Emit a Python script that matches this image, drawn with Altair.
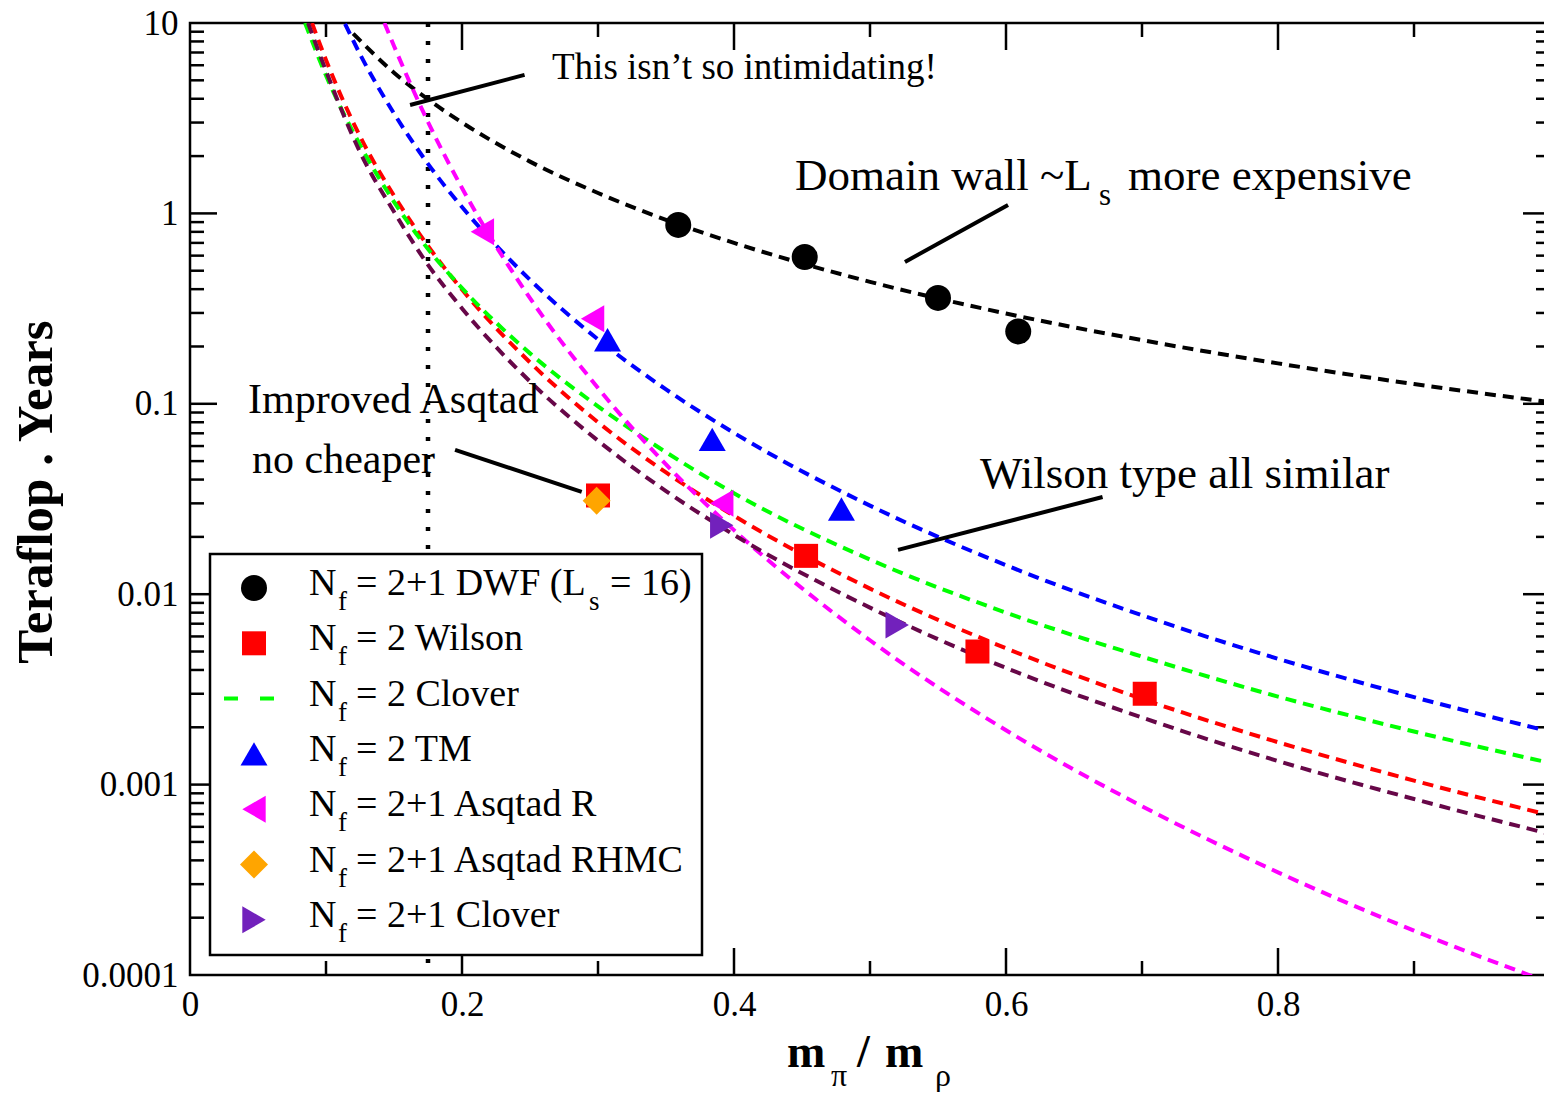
import altair as alt
import pandas as pd

# ---------------- data ----------------
# cost curves (x = m_pi/m_rho, y = Teraflop.Years)
dwf_x = [0.12, 0.15, 0.175, 0.2, 0.25, 0.3, 0.35, 0.4, 0.5, 0.6, 0.7, 0.8, 0.9, 1.0]
dwf_y = [8.8, 5.48, 3.97, 3.0, 1.87, 1.28, 0.925, 0.70, 0.437, 0.298, 0.216, 0.163, 0.127, 0.102]

wil_x = [0.0897, 0.1, 0.125, 0.15, 0.175, 0.2, 0.25, 0.3, 0.35, 0.4, 0.5, 0.6, 0.7, 0.8, 0.9, 1.0]
wil_y = [10, 6.4, 2.54, 1.24, 0.674, 0.398, 0.165, 0.080, 0.0436, 0.0258, 0.0107, 0.0052, 0.00282, 0.00167, 0.00105, 0.00069]

clo_x = [0.0846, 0.1, 0.125, 0.15, 0.175, 0.2, 0.25, 0.3, 0.35, 0.4, 0.5, 0.6, 0.7, 0.8, 0.9, 1.0]
clo_y = [10, 5.3, 2.29, 1.15, 0.65, 0.405, 0.184, 0.097, 0.0557, 0.0339, 0.0152, 0.0080, 0.0047, 0.0029, 0.0019, 0.0013]

tm_x = [0.114, 0.125, 0.15, 0.175, 0.2, 0.25, 0.3, 0.35, 0.4, 0.5, 0.6, 0.7, 0.8, 0.9, 1.0]
tm_y = [9.9, 6.86, 3.35, 1.82, 1.08, 0.448, 0.218, 0.119, 0.0703, 0.0292, 0.0142, 0.00775, 0.00458, 0.00288, 0.0019]

asq_x = [0.143, 0.15, 0.175, 0.2, 0.25, 0.3, 0.35, 0.4, 0.5, 0.6, 0.7, 0.8, 0.9, 1.0]
asq_y = [10, 7.58, 3.02, 1.36, 0.359, 0.121, 0.048, 0.0217, 0.00573, 0.00193, 0.00077, 0.000346, 0.000171, 0.000091]

clo3_x = [0.0868, 0.1, 0.125, 0.15, 0.175, 0.2, 0.25, 0.3, 0.35, 0.4, 0.5, 0.6, 0.7, 0.8, 0.9, 1.0]
clo3_y = [10, 5.6, 2.1, 1.02, 0.537, 0.317, 0.131, 0.064, 0.0348, 0.0205, 0.0085, 0.0041, 0.00225, 0.00133, 0.00084, 0.00055]

# measured points
dwf_mx = [0.359, 0.452, 0.55, 0.609]
dwf_my = [0.87, 0.59, 0.36, 0.24]
wil_mx = [0.3, 0.453, 0.579, 0.702]
wil_my = [0.033, 0.0159, 0.005, 0.003]
tm_mx = [0.307, 0.384, 0.479]
tm_my = [0.217, 0.065, 0.028]
asq_mx = [0.215, 0.296, 0.391]
asq_my = [0.8, 0.28, 0.030]
rhmc_mx = [0.299]
rhmc_my = [0.031]
clo3_mx = [0.391, 0.52]
clo3_my = [0.023, 0.0069]

# physical point marker (vertical dotted line)
phys_x = [0.175]

# annotation pointer lines (data coordinates)
ptr_x = [0.246, 0.6015, 0.671, 0.1949]
ptr_y = [5.34, 1.108, 0.0324, 0.0573]
ptr_x2 = [0.1618, 0.5257, 0.5206, 0.288]
ptr_y2 = [3.71, 0.556, 0.0171, 0.0345]

# axis ticks
x_tick_labels = [0, 0.2, 0.4, 0.6, 0.8, 1.0]
y_tick_labels = [0.0001, 0.001, 0.01, 0.1, 1, 10]
x_major = [0.2, 0.4, 0.6, 0.8]
x_minor = [0.1, 0.3, 0.5, 0.7, 0.9]
y_major = [0.001, 0.01, 0.1, 1]
y_minor = [k * 10.0 ** e for e in range(-4, 1) for k in range(2, 10)]

legend_keys = ["dwf", "wil", "clo", "tm", "asq", "rhmc", "clo3"]
legend_text = ["= 2+1 DWF (L", "= 2 Wilson", "= 2 Clover", "= 2 TM",
               "= 2+1 Asqtad R", "= 2+1 Asqtad RHMC", "= 2+1 Clover"]

# ---------------- styles ----------------
FONT = "Liberation Serif"
W, H = 1360, 952
STYLE = {
    "dwf": dict(color="#000000", shape="circle", size=676),
    "wil": dict(color="#ff0000", shape="square", size=576),
    "clo": dict(color="#00ff00"),
    "tm": dict(color="#0000ff", shape="triangle-up", size=729),
    "asq": dict(color="#ff00ff", shape="triangle-left", size=729),
    "rhmc": dict(color="#ffa500", shape="diamond", size=784),
    "clo3": dict(color="#7221bc", shape="triangle-right", size=729),
}
LINE_COLOR = {"dwf": "#000000", "wil": "#ff0000", "clo": "#00ff00",
              "tm": "#0000ff", "asq": "#ff00ff", "clo3": "#670748"}

xscale = alt.Scale(domain=[0, 1], nice=False, zero=False)
yscale = alt.Scale(type="log", domain=[1e-4, 10], nice=False)
xaxis = alt.Axis(values=x_tick_labels, format="~g", title=None, grid=False,
                 ticks=False, domain=False, labelFont=FONT, labelFontSize=35,
                 labelColor="black", labelPadding=12, labelFlush=False,
                 labelOverlap=False)
yaxis = alt.Axis(values=y_tick_labels, format="~g", title=None, grid=False,
                 ticks=False, domain=False, labelFont=FONT, labelFontSize=35,
                 labelColor="black", labelPadding=12, labelOverlap=False)

X = lambda f: alt.X(f, type="quantitative", scale=xscale, axis=xaxis)
Y = lambda f: alt.Y(f, type="quantitative", scale=yscale, axis=yaxis)
ONE = pd.DataFrame({"k": [0]})

layers = []

# ---- tick marks (inward, all four sides) ----
def xt(vals, L):
    d = pd.DataFrame({"v": vals})
    b = alt.Chart(d).mark_rule(color="black", strokeWidth=2.5)
    return [b.encode(x=X("v"), y=alt.value(H), y2=alt.value(H - L)),
            b.encode(x=X("v"), y=alt.value(0), y2=alt.value(L))]

def yt(vals, L):
    d = pd.DataFrame({"v": vals})
    b = alt.Chart(d).mark_rule(color="black", strokeWidth=2.5)
    return [b.encode(y=Y("v"), x=alt.value(0), x2=alt.value(L)),
            b.encode(y=Y("v"), x=alt.value(W), x2=alt.value(W - L))]

layers += xt(x_major, 27) + xt(x_minor, 14) + yt(y_major, 27) + yt(y_minor, 14)

# ---- dotted vertical line ----
layers.append(alt.Chart(pd.DataFrame({"v": phys_x})).mark_rule(
    color="black", strokeWidth=4.5, strokeDash=[4, 14]).encode(x=X("v")))

# ---- curves ----
curves = [("dwf", dwf_x, dwf_y), ("wil", wil_x, wil_y), ("clo", clo_x, clo_y),
          ("tm", tm_x, tm_y), ("asq", asq_x, asq_y), ("clo3", clo3_x, clo3_y)]
for key, xs, ys in curves:
    d = pd.DataFrame({"x": xs, "y": ys})
    layers.append(alt.Chart(d).mark_line(
        color=LINE_COLOR[key], strokeDash=[11, 7], strokeWidth=4,
        clip=True, interpolate="monotone").encode(x=X("x"), y=Y("y")))

# ---- markers ----
pts = [("dwf", dwf_mx, dwf_my), ("wil", wil_mx, wil_my), ("tm", tm_mx, tm_my),
       ("asq", asq_mx, asq_my), ("rhmc", rhmc_mx, rhmc_my), ("clo3", clo3_mx, clo3_my)]
for key, xs, ys in pts:
    s = STYLE[key]
    d = pd.DataFrame({"x": xs, "y": ys})
    layers.append(alt.Chart(d).mark_point(
        shape=s["shape"], size=s["size"], filled=True, color=s["color"],
        opacity=1, strokeWidth=0).encode(x=X("x"), y=Y("y")))

# ---- annotation pointer lines ----
ptr = pd.DataFrame({"x": ptr_x, "y": ptr_y, "x2": ptr_x2, "y2": ptr_y2})
layers.append(alt.Chart(ptr).mark_rule(color="black", strokeWidth=4).encode(
    x=X("x"), y=Y("y"), x2="x2:Q", y2="y2:Q"))

# ---- annotation texts (pixel layout) ----
def txt(s, x, y, size, weight="normal", align="left", angle=0):
    kw = dict(text=s, font=FONT, fontSize=size, fontWeight=weight, align=align,
              baseline="alphabetic", color="black")
    if angle:
        kw["angle"] = angle
    return alt.Chart(ONE).mark_text(**kw).encode(x=alt.value(x), y=alt.value(y))

layers += [
    txt("This isn\u2019t so intimidating!", 362, 56, 37),
    txt("Domain wall ~L", 605, 167, 45),
    txt("s", 909, 182, 31),
    txt("more expensive", 938, 167, 45),
    txt("Wilson type all similar", 790, 465, 45),
    txt("Improved Asqtad", 58, 390, 42),
    txt("no cheaper", 62, 450, 42),
]

# ---- axis titles ----
layers += [
    txt("Teraflop . Years", -138, 469, 51, weight="bold", align="center", angle=270),
    txt("m", 597, 1044, 46, weight="bold"),
    txt("\u03c0", 641, 1063, 32),
    txt("/", 667, 1044, 46, weight="bold"),
    txt("m", 695, 1044, 46, weight="bold"),
    txt("\u03c1", 745, 1063, 32),
]

# ---- legend ----
layers.append(alt.Chart(ONE).mark_rect(fill="white", stroke="black", strokeWidth=2.5).encode(
    x=alt.value(20), x2=alt.value(512), y=alt.value(531), y2=alt.value(932)))
ROW0, ROWSTEP = 565, 55.3
for i, (key, label) in enumerate(zip(legend_keys, legend_text)):
    yc = ROW0 + i * ROWSTEP
    s = STYLE[key]
    if key == "clo":
        layers.append(alt.Chart(ONE).mark_rule(
            color=s["color"], strokeWidth=4, strokeDash=[14, 22]).encode(
            x=alt.value(34), x2=alt.value(92), y=alt.value(yc)))
    else:
        layers.append(alt.Chart(ONE).mark_point(
            shape=s["shape"], size=s["size"], filled=True, color=s["color"],
            opacity=1, strokeWidth=0).encode(x=alt.value(64), y=alt.value(yc)))
    layers.append(txt("N", 119, yc + 7, 38))
    layers.append(txt("f", 148, yc + 22, 27))
    layers.append(txt(label, 166, yc + 7, 38))
    if key == "dwf":
        layers.append(txt("s", 399, yc + 22, 27))
        layers.append(txt("= 16)", 420, yc + 7, 38))

chart = alt.layer(*layers).properties(
    width=W, height=H,
    padding={"left": 182, "top": 15, "right": -6, "bottom": 117},
    autosize=alt.AutoSizeParams(type="none"),
).configure_view(stroke="black", strokeWidth=2.5)

chart.save("out.html", embed_options={"renderer": "svg", "actions": False})
